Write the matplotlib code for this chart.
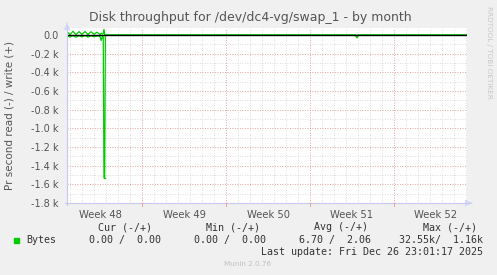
import matplotlib
matplotlib.use("Agg")
import matplotlib.pyplot as plt
import numpy as np

# ---- data (days from left edge of graph) ----
days = [0.0, 0.25, 0.5, 0.75, 1.0, 1.25, 1.5, 1.75, 2.0, 2.25, 2.5, 2.75,
        2.85, 2.95, 3.02, 3.08, 3.14, 3.2, 24.0, 24.17, 24.3, 33.33]
write_vals = [38, 5, 40, 4, 36, 6, 38, 5, 35, 8, 30, 5,
              20, 10, 15, 60, 5, 0, 0, 0, 0, 0]
read_vals = [-6, -22, -5, -24, -7, -20, -6, -22, -9, -18, -10, -15,
             -60, -12, -20, -1530, -1530, 0, 0, -30, 0, 0]

week_labels = ["Week 48", "Week 49", "Week 50", "Week 51", "Week 52"]
week_centers = [2.75, 9.75, 16.75, 23.75, 30.75]
week_bounds = [6.25, 13.25, 20.25, 27.25]
yticks = [0, -200, -400, -600, -800, -1000, -1200, -1400, -1600, -1800]
ytick_labels = ["0.0", "-0.2 k", "-0.4 k", "-0.6 k", "-0.8 k", "-1.0 k",
                "-1.2 k", "-1.4 k", "-1.6 k", "-1.8 k"]

W, H = 497, 275
fig = plt.figure(figsize=(W / 100, H / 100), dpi=100, facecolor="#f0f0f0")

def fx(x):
    return x / W

def fy(y):
    return 1 - y / H

L, R, T, B = 67, 467, 28, 203
ax = fig.add_axes([fx(L), fy(B), (R - L) / W, (B - T) / H])
ax.set_facecolor("white")
ax.set_xlim(0, 33.33)
ax.set_ylim(-1800, 75)
for s in ax.spines.values():
    s.set_visible(False)

# grid
for d in np.arange(0.25, 33.3, 1.0):
    ax.axvline(d, color="#d0d0d0", lw=0.6, ls=(0, (1, 2)), zorder=0)
for d in week_bounds:
    ax.axvline(d, color="#f09a9a", lw=0.6, ls=(0, (1, 2)), zorder=0.5)
for v in range(-1700, 75, 100):
    ax.axhline(v, color="#d0d0d0", lw=0.6, ls=(0, (1, 2)), zorder=0)
for v in yticks:
    ax.axhline(v, color="#f09a9a", lw=0.6, ls=(0, (1, 2)), zorder=0.5)

ax.plot(days, write_vals, color="#00cc00", lw=0.9, zorder=2)
ax.plot(days, read_vals, color="#00cc00", lw=0.9, zorder=2)
ax.plot([3.08, 3.14], [-1530, -1530], color="#00cc00", lw=0.9, zorder=2)
ax.axhline(0, color="black", lw=1.0, zorder=3)

ax.set_yticks(yticks)
ax.set_yticklabels(ytick_labels, fontsize=7, color="#555555")
ax.set_xticks(week_centers)
ax.set_xticklabels(week_labels, fontsize=7.2, color="#555555")
ax.tick_params(axis="both", length=0, pad=6)
ax.tick_params(axis="x", pad=5)

# axis lines with arrows
axc = "#c8c8f0"
fig.add_artist(plt.Line2D([fx(L), fx(L)], [fy(B + 2), fy(T - 2)], color=axc, lw=0.8))
fig.add_artist(plt.Line2D([fx(L - 2), fx(R + 3)], [fy(B), fy(B)], color=axc, lw=0.8))
ax.annotate("", xy=(fx(L), fy(T - 8)), xytext=(fx(L), fy(T - 2)),
            xycoords="figure fraction",
            arrowprops=dict(arrowstyle="-|>,head_width=0.2,head_length=0.4",
                            color="#d8d8f8", lw=0.8))
ax.annotate("", xy=(fx(R + 8), fy(B)), xytext=(fx(R + 2), fy(B)),
            xycoords="figure fraction",
            arrowprops=dict(arrowstyle="-|>,head_width=0.2,head_length=0.4",
                            color="#d8d8f8", lw=0.8))
for d in week_bounds:
    xx = L + d * (R - L) / 33.33
    fig.add_artist(plt.Line2D([fx(xx), fx(xx)], [fy(B), fy(B + 3)], color="#f09a9a", lw=0.7))

# titles
fig.text(fx(250), fy(18), "Disk throughput for /dev/dc4-vg/swap_1 - by month",
         ha="center", va="center", fontsize=9, color="#555555")
fig.text(fx(10), fy(115), "Pr second read (-) / write (+)", rotation=90,
         ha="center", va="center", fontsize=7.5, color="#555555")
fig.text(fx(489), fy(6), "RRDTOOL / TOBI OETIKER", rotation=270,
         ha="center", va="top", fontsize=5.2, color="#c8c8c8")

mono = "DejaVu Sans Mono"
fs = 7.2
tc = "#333333"
for txt, x in [("Cur (-/+)", 152), ("Min (-/+)", 260), ("Avg (-/+)", 368), ("Max (-/+)", 477)]:
    fig.text(fx(x), fy(227), txt, ha="right", va="center", family=mono, fontsize=fs, color=tc)
fig.add_artist(plt.Rectangle((fx(14), fy(243)), 5 / W, 5 / H, color="#00cc00",
                             transform=fig.transFigure))
fig.text(fx(26), fy(240), "Bytes", ha="left", va="center", family=mono, fontsize=fs, color=tc)
for txt, x in [("0.00 /  0.00", 161), ("0.00 /  0.00", 266),
               ("6.70 /  2.06", 371), ("32.55k/  1.16k", 483)]:
    fig.text(fx(x), fy(240), txt, ha="right", va="center", family=mono, fontsize=fs, color=tc)
fig.text(fx(483), fy(252), "Last update: Fri Dec 26 23:01:17 2025", ha="right",
         va="center", family=mono, fontsize=fs, color=tc)
fig.text(fx(248), fy(264), "Munin 2.0.76", ha="center", va="center",
         fontsize=5.2, color="#c0c0c0")

fig.savefig("out.png", dpi=100, facecolor=fig.get_facecolor())
